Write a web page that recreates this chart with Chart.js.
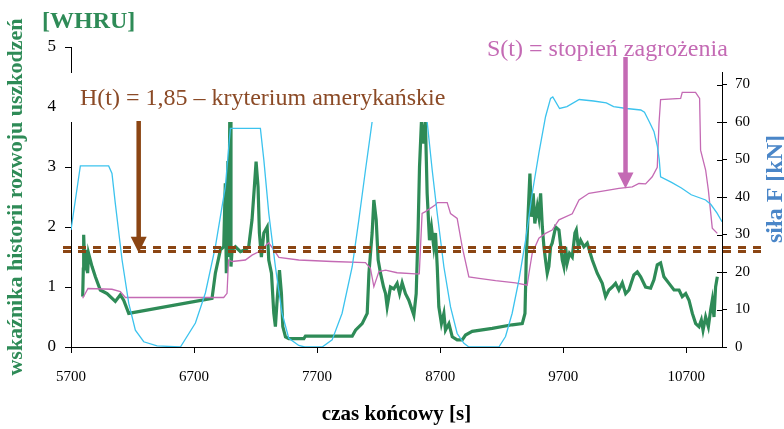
<!DOCTYPE html>
<html>
<head>
<meta charset="utf-8">
<script src="https://cdn.jsdelivr.net/npm/chart.js@4.4.0/dist/chart.umd.min.js"></script>
<style>
  html, body { margin: 0; padding: 0; background: #fff; }
  canvas { display: block; }
</style>
</head>
<body>
<canvas id="myChart" width="784" height="429"></canvas>
<script>
// Axis ticks
const timeTicks = [5700, 6700, 7700, 8700, 9700, 10700];
const forceTicks = [0, 10, 20, 30, 40, 50, 60, 70];

// WHRU (left axis)
const whruTime = [5795, 5800, 5803, 5810, 5817, 5825, 5835, 5843, 5871, 5898, 5938, 5993, 6060, 6101, 6128, 6169,
    6846, 6873, 6914, 6941, 6954, 6962, 6975, 6982, 6990, 6995, 7000, 7009, 7036, 7077, 7117, 7144, 7171, 7190, 7204,
    7220, 7231, 7247, 7267, 7294, 7307, 7329, 7348, 7361, 7375, 7394, 7410, 7421, 7443, 7470, 7592, 7605, 7985, 8012,
    8066, 8107, 8121, 8147, 8161, 8180, 8196, 8215, 8240, 8256, 8269, 8296, 8323, 8350, 8370, 8391, 8418, 8445, 8486,
    8505, 8521, 8532, 8548, 8567, 8580, 8594, 8613, 8629, 8648, 8662, 8676, 8689, 8710, 8730, 8743, 8771, 8798, 8838,
    8879, 8906, 8960, 9123, 9285, 9367, 9389, 9399, 9416, 9429, 9442, 9456, 9469, 9489, 9502, 9516, 9530, 9543, 9556,
    9570, 9583, 9597, 9610, 9638, 9665, 9692, 9705, 9719, 9732, 9751, 9773, 9795, 9806, 9822, 9841, 9868, 9895, 9936,
    9976, 10017, 10044, 10071, 10098, 10125, 10152, 10180, 10207, 10234, 10274, 10302, 10329, 10369, 10410, 10437,
    10464, 10491, 10518, 10559, 10600, 10641, 10667, 10695, 10722, 10749, 10776, 10803, 10822, 10836, 10857, 10879,
    10898, 10911, 10925, 10938, 10952];
const whruValue = [0.84, 1.3, 1.87, 1.45, 1.39, 1.62, 1.23, 1.56, 1.34, 1.17, 0.95, 0.89, 0.76, 0.87, 0.78, 0.56,
    0.81, 1.23, 1.62, 1.67, 2.73, 1.23, 3.1, 1.5, 3.8, 3.8, 1.34, 1.62, 1.67, 1.59, 1.62, 1.67, 2.12, 2.67, 3.09,
    2.67, 1.9, 1.5, 1.9, 2.0, 1.45, 1.23, 0.56, 0.34, 0.78, 1.28, 0.89, 0.34, 0.17, 0.14, 0.14, 0.18, 0.18, 0.28,
    0.39, 0.56, 1.23, 1.9, 2.45, 2.12, 1.45, 1.23, 1.0, 0.89, 0.67, 1.0, 0.97, 1.06, 0.89, 1.07, 0.89, 0.78, 0.53,
    0.89, 2.0, 3.0, 3.78, 3.39, 3.75, 2.56, 1.78, 2.0, 1.67, 1.9, 1.34, 0.67, 0.39, 0.56, 0.28, 0.39, 0.17, 0.12,
    0.12, 0.2, 0.26, 0.31, 0.37, 0.39, 0.56, 1.45, 2.28, 2.89, 2.17, 2.56, 2.06, 2.34, 2.17, 2.56, 2.0, 1.67, 1.45,
    1.23, 1.34, 1.67, 1.73, 2.0, 1.95, 1.45, 1.34, 1.67, 1.4, 1.56, 1.5, 1.9, 1.95, 1.67, 1.78, 1.67, 1.73, 1.45,
    1.23, 1.06, 0.84, 0.95, 1.0, 1.06, 0.95, 1.07, 0.89, 0.95, 1.2, 1.25, 1.17, 1.0, 0.98, 1.12,
    1.37, 1.4, 1.17, 1.06, 0.95, 0.95, 0.84, 0.89, 0.78, 0.56, 0.39, 0.34, 0.45, 0.28, 0.5, 0.34,
    0.62, 0.78, 0.5, 1.0, 1.17];

// siła F [kN] (right axis)
const forceTime = [5700, 5776, 6006, 6033, 6060, 6115, 6169, 6223, 6291, 6399, 6589, 6711, 6792, 6873, 6954, 6995,
    7239, 7267, 7307, 7361, 7415, 7470, 7551, 7600, 7741, 7822, 7903, 7985, 8039, 8093, 8147, 8200, 8540, 8594, 8635,
    8676, 8730, 8784, 8838, 8893, 8933, 9177, 9231, 9285, 9340, 9394, 9448, 9502, 9556, 9597, 9615, 9670, 9730, 9830,
    9946, 10050, 10109, 10215, 10330, 10360, 10397, 10437, 10465, 10480, 10491, 10580, 10660, 10740, 10857, 10900,
    10950, 10990];
const forceValue = [31.2, 48.3, 48.3, 46.3, 38.3, 23.2, 11.7, 4.5, 1.4, 0.3, 0, 6.4, 14.4, 26.7, 42.7, 58.3,
    58.3, 49.9, 35.7, 21.4, 9, 2.3, 0.4, 0, 0, 1.9, 9, 21.4, 33.9, 47.2, 60.1, 72, 72, 60.1, 47.2,
    35.6, 21.4, 10.7, 3.6, 1, 0, 0, 2.8, 9, 17.9, 28.5, 41, 51.7, 61.4, 66.3, 66.7, 63.6, 64.1, 66.0,
    65.6, 65.1, 64.1, 63.6, 63.2, 62.6, 60.2, 57.5, 53.5, 50, 45.4, 43.9, 42.4, 40.6, 39.2, 38.0,
    35.7, 33.4];

// S(t) stopień zagrożenia (right axis scale)
const threatTime = [5795, 5838, 6033, 6101, 6142, 6941, 6968, 6980, 7009, 7117, 7171, 7226, 7307, 7348, 7389, 7551,
    7822, 8093, 8133, 8161, 8202, 8256, 8350, 8499, 8530, 8553, 8580, 8662, 8676, 8757, 8784, 8838, 8879, 8933, 9015,
    9150, 9312, 9407, 9421, 9448, 9502, 9556, 9610, 9665, 9773, 9828, 9909, 10044, 10152, 10261, 10315, 10369, 10423,
    10464, 10478, 10491, 10654, 10667, 10775, 10808, 10816, 10857, 10879, 10911, 10952];
const threatValue = [13.0, 15.6, 15.4, 14.8, 13.2, 13.2, 14.3, 23.2, 22.8, 23.2, 24.5, 25.4, 27.8, 25.9, 23.9, 23.2,
    22.8, 22.5, 21.0, 16.1, 20.1, 20.5, 19.8, 19.5, 19.5, 35.6, 36.1, 37.9, 38.5, 38.5, 35.6, 34.3, 26.7, 18.7, 18.3,
    17.7, 17.1, 16.5, 19.6, 25.0, 29.0, 30.3, 31.2, 33.9, 35.5, 39.2, 41.0, 41.7, 42.3, 42.7, 43.6, 43.5, 45.4,
    47.9, 59.6, 66.0, 66.3, 67.9, 67.9, 66.3, 52.5, 47.2, 41.9, 31.7, 30.3];

// H(t) criterion dashed lines (left axis) and arrow targets
const thresholdLines = [1.66, 1.59];
const hArrow = { x: 6250, y: 1.57 };
const sArrow = { x: 10206, y: 42.3 };

const serif = '"Liberation Serif", "Times New Roman", serif';
const green = '#2e8b57';
const brown = '#8b4513';
const pink = '#c46ab4';

function toPoints(xs, ys) {
    return xs.map((x, i) => ({ x: x, y: ys[i] }));
}

function drawArrow(ctx, x, yTop, yTip, color) {
    ctx.strokeStyle = color;
    ctx.fillStyle = color;
    ctx.lineWidth = 4.5;
    ctx.beginPath();
    ctx.moveTo(x, yTop);
    ctx.lineTo(x, yTip - 14);
    ctx.stroke();
    ctx.beginPath();
    ctx.moveTo(x - 8, yTip - 16);
    ctx.lineTo(x + 8, yTip - 16);
    ctx.lineTo(x, yTip);
    ctx.closePath();
    ctx.fill();
}

const overlayPlugin = {
    id: 'overlay',
    afterDraw(chart) {
        const ctx = chart.ctx;
        const area = chart.chartArea;
        const xs = chart.scales.x, yl = chart.scales.y, yr = chart.scales.y2;
        ctx.save();

        // right axis ticks cross the axis line
        ctx.strokeStyle = '#000';
        ctx.lineWidth = 1;
        yr.ticks.forEach(t => {
            const py = Math.round(yr.getPixelForValue(t.value)) + 0.5;
            ctx.beginPath();
            ctx.moveTo(area.right - 5, py);
            ctx.lineTo(area.right, py);
            ctx.stroke();
        });

        // dashed criterion lines
        ctx.strokeStyle = brown;
        ctx.lineWidth = 3;
        ctx.setLineDash([8, 7]);
        thresholdLines.forEach(v => {
            const py = yl.getPixelForValue(v);
            ctx.beginPath();
            ctx.moveTo(area.left - 8, py);
            ctx.lineTo(area.right + 40, py);
            ctx.stroke();
        });
        ctx.setLineDash([]);

        // white label backgrounds
        ctx.fillStyle = '#fff';
        ctx.fillRect(62, 73, 390, 49);
        ctx.fillRect(480, 28, 255, 44);

        // arrows
        drawArrow(ctx, xs.getPixelForValue(hArrow.x), 121, yl.getPixelForValue(hArrow.y), brown);
        drawArrow(ctx, xs.getPixelForValue(sArrow.x), 57, yr.getPixelForValue(sArrow.y), pink);

        // labels
        ctx.textAlign = 'left';
        ctx.textBaseline = 'alphabetic';
        ctx.font = '24px ' + serif;
        ctx.fillStyle = '#8b4a26';
        ctx.fillText('H(t) = 1,85 \u2013 kryterium amerykańskie', 80, 105);
        ctx.fillStyle = pink;
        ctx.fillText('S(t) = stopień zagrożenia', 487, 56);

        ctx.font = 'bold 24px ' + serif;
        ctx.fillStyle = green;
        ctx.fillText('[WHRU]', 42, 28);

        ctx.translate(782, 243);
        ctx.rotate(-Math.PI / 2);
        ctx.fillStyle = '#4a86c8';
        ctx.fillText('siła F [kN]', 0, 0);
        ctx.restore();
    }
};

const ctx = document.getElementById('myChart').getContext('2d');
new Chart(ctx, {
    type: 'line',
    data: {
        datasets: [
            {
                label: 'siła F',
                data: toPoints(forceTime, forceValue),
                yAxisID: 'y2',
                borderColor: '#3cc3ee',
                borderWidth: 1.3
            },
            {
                label: 'S(t)',
                data: toPoints(threatTime, threatValue),
                yAxisID: 'y2',
                borderColor: pink,
                borderWidth: 1.3
            },
            {
                label: 'WHRU',
                data: toPoints(whruTime, whruValue),
                yAxisID: 'y',
                borderColor: green,
                borderWidth: 3.2
            }
        ]
    },
    options: {
        responsive: false,
        animation: false,
        devicePixelRatio: 1,
        layout: { padding: { top: 47, left: 0, right: 0, bottom: 0 } },
        elements: {
            point: { radius: 0 },
            line: { tension: 0, fill: false }
        },
        plugins: {
            legend: { display: false },
            tooltip: { enabled: false }
        },
        scales: {
            x: {
                type: 'linear',
                min: 5700,
                max: 10990,
                afterBuildTicks: axis => { axis.ticks = timeTicks.map(v => ({ value: v })); },
                afterFit: axis => { axis.height = 82; },
                grid: { drawOnChartArea: false, tickLength: 6, color: '#000' },
                border: { color: '#000' },
                ticks: {
                    color: '#000',
                    font: { family: serif, size: 15 },
                    padding: 15,
                    maxRotation: 0,
                    callback: v => String(v)
                },
                title: {
                    display: true,
                    text: 'czas końcowy [s]',
                    color: '#000',
                    font: { family: serif, size: 21, weight: 'bold' },
                    padding: { top: 0, bottom: 2 }
                }
            },
            y: {
                position: 'left',
                min: 0,
                max: 5,
                afterFit: axis => { axis.width = 71; },
                grid: { drawOnChartArea: false, tickLength: 6, color: '#000' },
                border: { color: '#000' },
                ticks: { stepSize: 1, color: '#000', font: { family: serif, size: 17 }, padding: 9 },
                title: {
                    display: true,
                    text: 'wskaźnika historii rozwoju uszkodzeń',
                    color: green,
                    font: { family: serif, size: 22, weight: 'bold' },
                    padding: { top: 3, bottom: 0 }
                }
            },
            y2: {
                position: 'right',
                min: 0,
                max: 80,
                afterBuildTicks: axis => { axis.ticks = forceTicks.map(v => ({ value: v })); },
                afterFit: axis => { axis.width = 62; },
                grid: { drawOnChartArea: false, tickLength: 5, color: '#000' },
                border: { color: '#000' },
                ticks: { color: '#000', font: { family: serif, size: 15 }, padding: 8 }
            }
        }
    },
    plugins: [overlayPlugin]
});
</script>
</body>
</html>
